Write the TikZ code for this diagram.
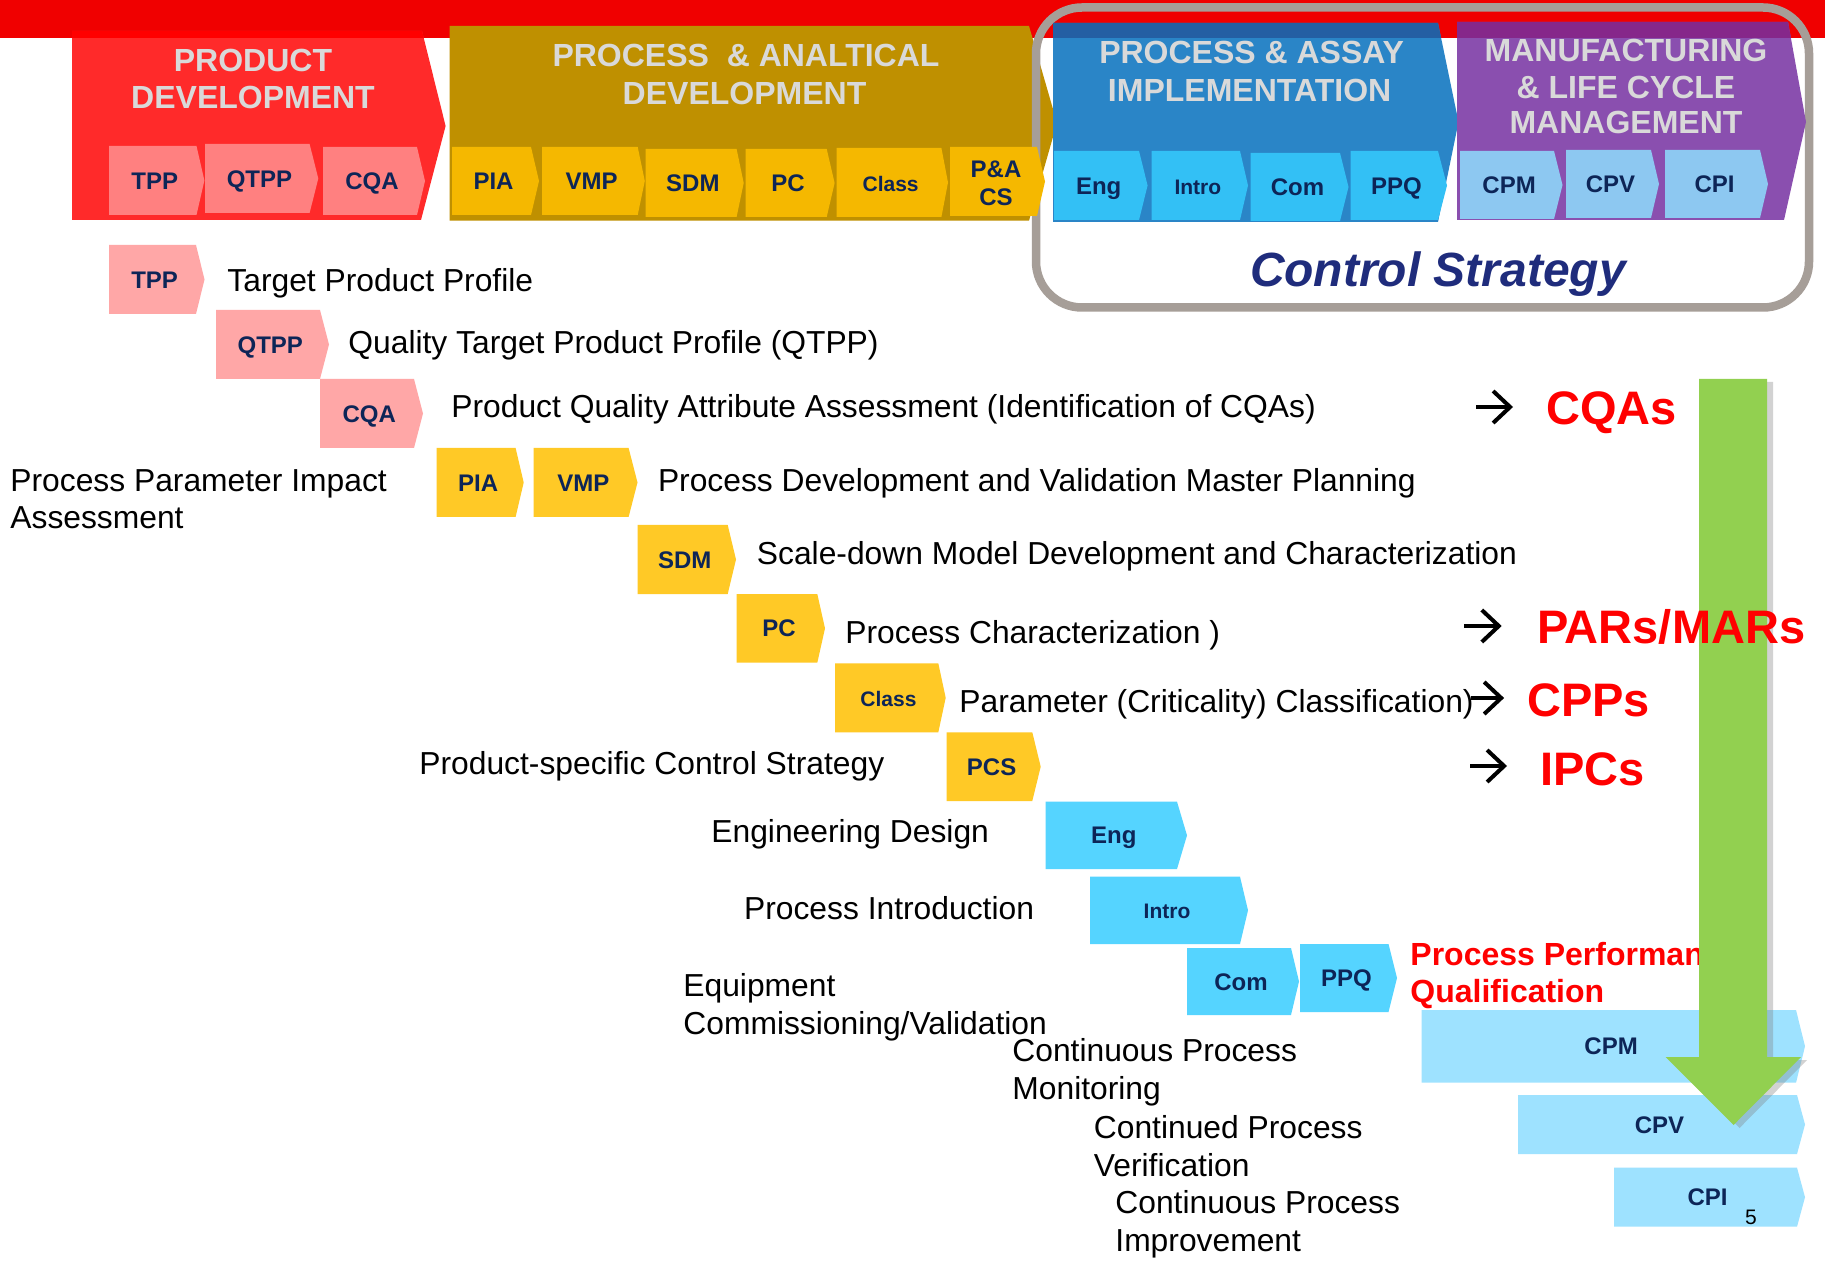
\documentclass[tikz,border=0pt]{standalone}
\usepackage{fontspec}
\setmainfont{Liberation Sans}
\usetikzlibrary{arrows.meta,shadows}

\definecolor{bandred}{HTML}{F00000}
\definecolor{pdred}{HTML}{FF2A2A}
\definecolor{pdtop}{HTML}{FF0000}
\definecolor{gold}{HTML}{BF9000}
\definecolor{blueblk}{HTML}{2A85C7}
\definecolor{bluetop}{HTML}{245FA3}
\definecolor{purpleblk}{HTML}{8A4FAF}
\definecolor{purpletop}{HTML}{86278A}
\definecolor{hpink}{HTML}{FF8080}
\definecolor{hyellow}{HTML}{F5B800}
\definecolor{hcyan}{HTML}{33C0F5}
\definecolor{hlight}{HTML}{8DC8F1}
\definecolor{pinkc}{HTML}{FFA7A7}
\definecolor{yellowc}{HTML}{FFC926}
\definecolor{cyanc}{HTML}{55D4FF}
\definecolor{lcyanc}{HTML}{9EE2FF}
\definecolor{navy}{HTML}{0D2557}
\definecolor{titlegrey}{HTML}{D9D9D9}
\definecolor{cstrat}{HTML}{1F2C7C}
\definecolor{framegrey}{HTML}{A69E98}
\definecolor{arrowgreen}{HTML}{92D050}
\definecolor{redtext}{HTML}{FF0000}

% chevron: name, fill style, left, top, body right, bottom, tip x, label
\newcommand\chev[8]{%
  \fill[#2] (#3,#4) -- (#5,#4) -- (#7,{(#4+#6)/2}) -- (#5,#6) -- (#3,#6) -- cycle;
  \node[lbl] (#1) at ({(2*#3+#5+#7)/4},{(#4+#6)/2}) {#8};}

\tikzset{
  lbl/.style={text=navy, font=\bfseries\fontsize{12}{14}\selectfont,
    inner sep=0pt, text height=8.6pt, text depth=0pt},
  title/.style={text=titlegrey, font=\bfseries\fontsize{16}{19}\selectfont,
    anchor=base, inner sep=0pt},
  body/.style={font=\fontsize{15.9}{19}\selectfont, anchor=base west, inner sep=0pt},
  redlbl/.style={text=redtext, font=\bfseries\fontsize{23.5}{27}\selectfont,
    anchor=base west, inner sep=0pt},
  resarrow/.style={line width=2pt, -{Straight Barb[length=8.5pt,width=16pt]}},
}

\begin{document}
\begin{tikzpicture}[x=0.5pt,y=-0.5pt]
\fill[white] (0,0) rectangle (1825,1261);
\useasboundingbox (0,0) rectangle (1825,1261);

% top band
\fill[bandred] (0,0) rectangle (1825,37.7);

% phase blocks
\def\pdpath{(72,31) -- (422,31) -- (445.6,126) -- (421,220) -- (72,220) -- cycle}
\def\goldpath{(449.6,26) -- (1029,26) -- (1057,123) -- (1029,220.7) -- (449.6,220.7) -- cycle}
\def\bluepath{(1053,23) -- (1438,23) -- (1458.5,122) -- (1438,222) -- (1053,222) -- cycle}
\def\purplepath{(1457,22) -- (1788,22) -- (1806,122) -- (1784,220) -- (1457,220) -- cycle}
\fill[pdred] \pdpath;
\fill[gold] \goldpath;
\draw[framegrey, line width=4.25pt, rounded corners=23pt] (1036,7.5) rectangle (1809,307.5);
\fill[blueblk] \bluepath;
\fill[purpleblk] \purplepath;
\begin{scope}
  \clip (0,0) rectangle (1825,37.7);
  \fill[pdtop] \pdpath;
  \fill[bluetop] \bluepath;
  \fill[purpletop] \purplepath;
\end{scope}

% block titles
\node[title] (tpd1) at (253,71.5) {PRODUCT};
\node[title] (tpd2) at (253,108.5) {DEVELOPMENT};
\node[title] (tpa1) at (746,66.5) {PROCESS~~\& ANALTICAL};
\node[title] (tpa2) at (744.5,104.5) {DEVELOPMENT};
\node[title] (tpi1) at (1251.6,63.5) {PROCESS \& ASSAY};
\node[title] (tpi2) at (1249.6,102) {IMPLEMENTATION};
\node[title] (tml1) at (1626,61.5) {MANUFACTURING};
\node[title] (tml2) at (1626,98.5) {\& LIFE CYCLE};
\node[title] (tml3) at (1626,133.5) {MANAGEMENT};

% header steps
\chev{hTPP}{hpink}{109}{146}{196.5}{215}{204.4}{TPP}
\chev{hQTPP}{hpink}{205}{144}{309.6}{213}{318.3}{QTPP}
\chev{hCQA}{hpink}{323}{147}{417}{215}{425}{CQA}
\chev{hPIA}{hyellow}{452}{147}{531}{215}{539}{PIA}
\chev{hVMP}{hyellow}{542}{147}{637.7}{215}{644.8}{VMP}
\chev{hSDM}{hyellow}{645.6}{149}{736.6}{217}{743.7}{SDM}
\chev{hPC}{hyellow}{745.6}{149}{826.7}{217}{834.6}{PC}
\chev{hClass}{hyellow}{836.6}{148}{941.4}{217}{948}{\fontsize{10.5}{12}\selectfont Class}
\fill[hyellow] (950,147) -- (1037,147) -- (1045,181.5) -- (1037,216) -- (950,216) -- cycle;
\node[lbl, text height=, text depth=, align=center, font=\bfseries\fontsize{12}{14}\selectfont]
  (hPACS) at (996,183) {P\&A\\CS};
\chev{hEng}{hcyan}{1054}{151}{1139}{220}{1147.6}{Eng}
\chev{hIntro}{hcyan}{1151.7}{151}{1240}{220}{1248}{\fontsize{10.5}{12}\selectfont Intro}
\chev{hCom}{hcyan}{1250.6}{153}{1340}{221}{1348.5}{Com}
\chev{hPPQ}{hcyan}{1350.5}{151}{1438}{220}{1447}{PPQ}
\chev{hCPM}{hlight}{1460}{151}{1554}{219}{1562.5}{CPM}
\chev{hCPV}{hlight}{1566}{150}{1651}{218}{1659}{CPV}
\chev{hCPI}{hlight}{1665}{150}{1760}{218}{1768}{CPI}

\node[font=\bfseries\itshape\fontsize{24}{28}\selectfont, text=cstrat, anchor=base, inner sep=0pt]
  (cs) at (1438,286.5) {Control Strategy};

% staircase of steps
\chev{TPP}{pinkc}{109}{245}{196}{314}{204.5}{TPP}
\chev{QTPP}{pinkc}{216}{310}{320}{379}{329}{QTPP}
\chev{CQA}{pinkc}{320}{379}{414}{448}{423}{CQA}
\chev{PIA}{yellowc}{436.6}{448}{515.6}{517}{523.7}{PIA}
\chev{VMP}{yellowc}{533.5}{448}{628.6}{517}{637.5}{VMP}
\chev{SDM}{yellowc}{637.7}{525}{727.7}{594}{736}{SDM}
\chev{PC}{yellowc}{736.7}{594}{817.3}{662.7}{825}{PC}
\chev{Class}{yellowc}{835}{663.3}{938.3}{732.3}{945.7}{\fontsize{10.5}{12}\selectfont Class}
\chev{PCS}{yellowc}{946.7}{732.3}{1032.3}{801}{1040.7}{PCS}
\chev{Eng}{cyanc}{1045.5}{801.7}{1177}{869}{1187}{Eng}
\chev{Intro}{cyanc}{1090}{876.7}{1240}{944}{1248}{\fontsize{10.5}{12}\selectfont Intro}
\chev{Com}{cyanc}{1187}{948}{1291}{1015}{1299}{Com}
\chev{PPQ}{cyanc}{1300}{944}{1388.5}{1012}{1397}{PPQ}
\chev{CPM}{lcyanc}{1421.7}{1010}{1796}{1082.7}{1805}{CPM}
\chev{CPV}{lcyanc}{1518}{1095}{1797}{1154}{1805}{CPV}
\chev{CPI}{lcyanc}{1614}{1167.7}{1797}{1226.7}{1805}{CPI}

% descriptions
\node[body] (dTPP) at (227,291.5) {Target Product Profile};
\node[body] (dQTPP) at (348,353.5) {Quality Target Product Profile (QTPP)};
\node[body] (dCQA) at (451,418) {Product Quality Attribute Assessment (Identification of CQAs)};
\node[body] (dPIA1) at (10,491.5) {Process Parameter Impact};
\node[body] (dPIA2) at (10,529) {Assessment};
\node[body] (dVMP) at (657.6,492) {Process Development and Validation Master Planning};
\node[body] (dSDM) at (756.5,564.5) {Scale-down Model Development and Characterization};
\node[body] (dPC) at (845,643.5) {Process Characterization )};
\node[body] (dClass) at (959,712) {Parameter (Criticality) Classification)};
\node[body] (dPCS) at (419,774) {Product-specific Control Strategy};
\node[body] (dEng) at (711,842.7) {Engineering Design};
\node[body] (dIntro) at (743.7,919.5) {Process Introduction};
\node[body] (dCom1) at (683,996) {Equipment};
\node[body] (dCom2) at (683,1034.7) {Commissioning/Validation};
\node[body] (dCPM1) at (1012,1061) {Continuous Process};
\node[body] (dCPM2) at (1012,1099.5) {Monitoring};
\node[body] (dCPV1) at (1093.5,1138.5) {Continued Process};
\node[body] (dCPV2) at (1093.5,1176.5) {Verification};
\node[body] (dCPI1) at (1115,1213.5) {Continuous Process};
\node[body] (dCPI2) at (1115,1251) {Improvement};

\node[text=redtext, font=\bfseries\fontsize{16}{19}\selectfont, anchor=base west, inner sep=0pt]
  (dPPQ1) at (1410,965.5) {Process Performance};
\node[text=redtext, font=\bfseries\fontsize{16}{19}\selectfont, anchor=base west, inner sep=0pt]
  (dPPQ2) at (1410,1002) {Qualification};

\node[font=\fontsize{10.5}{12}\selectfont, anchor=base west, inner sep=0pt] (pg) at (1744.7,1224.5) {5};

% big downward arrow
\fill[arrowgreen, drop shadow={shadow xshift=3pt, shadow yshift=-1.5pt, opacity=0.35}]
  (1699,379) -- (1767,379) -- (1767,1057) -- (1801,1057) -- (1733.5,1125)
  -- (1665.5,1057) -- (1699,1057) -- cycle;

% outcomes
\node[redlbl] (rCQA) at (1546,424.5) {CQAs};
\node[redlbl] (rPAR) at (1536.7,643) {PARs/MARs};
\node[redlbl] (rCPP) at (1526.7,716.5) {CPPs};
\node[redlbl] (rIPC) at (1540,785) {IPCs};
\coordinate (aCQA) at (1476,407);
\coordinate (aPAR) at (1464,626);
\coordinate (aCPP) at (1471,698);
\coordinate (aIPC) at (1470,766);
\draw[resarrow, shorten >=16.5pt] (aCQA) -- (aCQA -| rCQA.west);
\draw[resarrow, shorten >=17.5pt] (aPAR) -- (aPAR -| rPAR.west);
\draw[resarrow, shorten >=11.3pt] (aCPP) -- (aCPP -| rCPP.west);
\draw[resarrow, shorten >=16.5pt] (aIPC) -- (aIPC -| rIPC.west);
\end{tikzpicture}
\end{document}
